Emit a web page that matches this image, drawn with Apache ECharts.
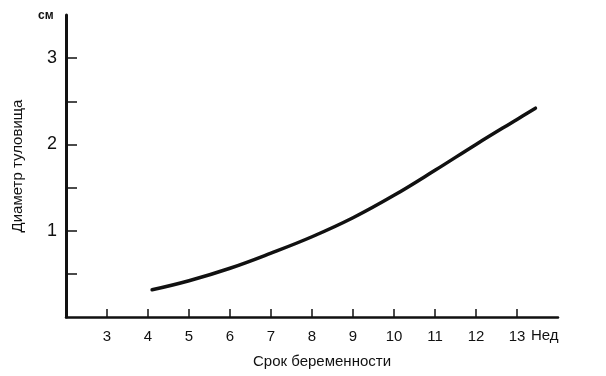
<!DOCTYPE html>
<html>
<head>
<meta charset="utf-8">
<script src="https://cdn.jsdelivr.net/npm/echarts@6/dist/echarts.min.js"></script>
<style>
  html, body { margin: 0; padding: 0; background: #fff; }
  #chart { width: 606px; height: 376px; }
</style>
</head>
<body>
<div id="chart"></div>
<script>
// срок беременности, недели
const weeks = [4.1, 5, 6, 7, 8, 9, 10, 11, 12, 13, 13.45];
// диаметр туловища, см
const diameter = [0.315, 0.42, 0.565, 0.74, 0.93, 1.15, 1.41, 1.7, 2.0, 2.29, 2.42];

const xTickLabels = [3, 4, 5, 6, 7, 8, 9, 10, 11, 12, 13];
const yTicks = [0.5, 1, 1.5, 2, 2.5, 3];
const yTickLabels = [1, 2, 3];

const chart = echarts.init(document.getElementById("chart"));
const font = "'Liberation Sans', Arial, sans-serif";

chart.setOption({
  backgroundColor: "#fff",
  animation: false,
  grid: { left: 66, right: 48, top: 15, bottom: 59 },
  xAxis: {
    type: "value",
    min: 2,
    max: 14,
    interval: 1,
    name: "Срок беременности",
    nameLocation: "middle",
    nameGap: 37,
    nameTextStyle: { color: "#111", fontSize: 15, fontFamily: font, padding: [0, 0, 0, 20] },
    axisLine: { lineStyle: { color: "#111", width: 2.5 } },
    axisTick: { inside: true, length: 8, lineStyle: { color: "#111", width: 1.5 }, customValues: xTickLabels },
    axisLabel: { color: "#111", fontSize: 15, fontFamily: font, margin: 12, customValues: xTickLabels },
    splitLine: { show: false }
  },
  yAxis: {
    type: "value",
    min: 0,
    max: 3.5,
    interval: 0.5,
    name: "Диаметр туловища",
    nameLocation: "middle",
    nameGap: 41,
    nameTextStyle: { color: "#111", fontSize: 15, fontFamily: font },
    axisLine: { lineStyle: { color: "#111", width: 3 } },
    axisTick: { inside: true, length: 11, lineStyle: { color: "#111", width: 1.5 }, customValues: yTicks },
    axisLabel: { color: "#111", fontSize: 18, fontFamily: font, margin: 9, customValues: yTickLabels },
    splitLine: { show: false }
  },
  graphic: [
    {
      type: "text", left: 38, top: 10,
      style: { text: "см", fill: "#111", font: "bold 12px " + font }
    },
    {
      type: "text", left: 531, top: 328,
      style: { text: "Нед", fill: "#111", font: "15px " + font }
    }
  ],
  series: [{
    type: "line",
    data: weeks.map((w, i) => [w, diameter[i]]),
    smooth: 0.4,
    showSymbol: false,
    lineStyle: { color: "#111", width: 3.5, cap: "round" }
  }]
});
</script>
</body>
</html>
